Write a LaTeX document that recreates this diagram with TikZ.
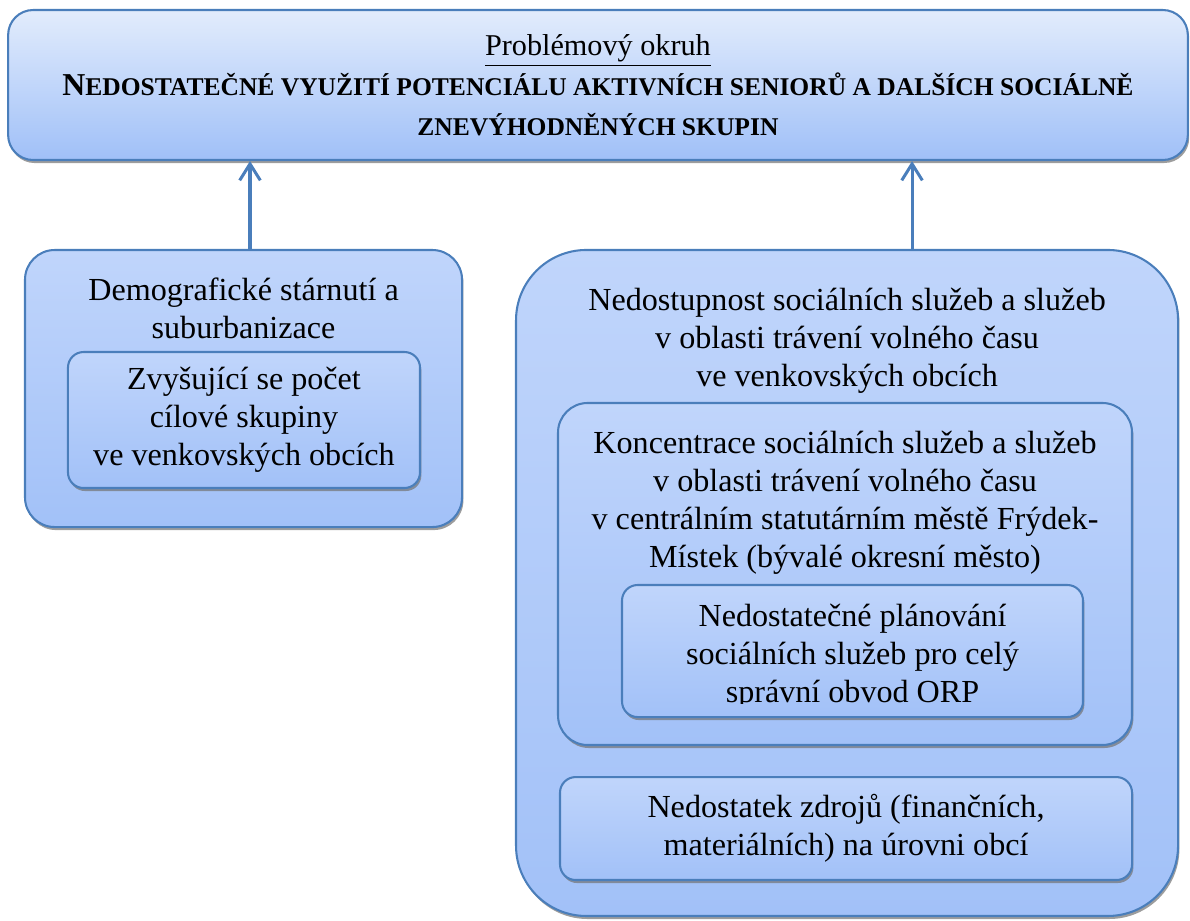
\documentclass[tikz,border=0pt]{standalone}
\usepackage{fontspec}
\setmainfont{Liberation Serif}
\usetikzlibrary{arrows.meta, positioning, shadows}
\definecolor{frameblue}{HTML}{4A7EBB}
\definecolor{titletop}{HTML}{E2ECFC}
\definecolor{titlebottom}{HTML}{A0C0F8}
\definecolor{boxtop}{HTML}{C0D5FB}
\definecolor{boxbottom}{HTML}{A2C1F8}

\begin{document}
\begin{tikzpicture}[
    font=\fontsize{11.7}{13.8}\selectfont,
    box/.style={rectangle, draw=frameblue, line width=0.75pt, top color=boxtop, bottom color=boxbottom, drop shadow={shadow xshift=0.5pt, shadow yshift=-1.1pt, fill=black!55, opacity=0.7}},
    titlebox/.style={box, top color=titletop, bottom color=titlebottom, rounded corners=0.32cm, align=center, font=\fontsize{11}{14.6}\selectfont},
    boxtext/.style={align=center, inner sep=0pt, anchor=north},
    arrow/.style={-{Straight Barb[length=6pt, width=7.5pt]}, line width=1.1pt, frameblue}
]
\useasboundingbox (0,0) rectangle (15.232,-11.776);

% problem area
\node[titlebox, minimum width=15.10cm, minimum height=1.92cm] (problem) at (7.654,-1.088)
    {\underline{Problémový okruh}\\
     \textbf{{\fontsize{11.6}{14.6}\selectfont N}{\fontsize{9.3}{14.6}\selectfont EDOSTATEČNÉ VYUŽITÍ POTENCIÁLU AKTIVNÍCH SENIORŮ A DALŠÍCH SOCIÁLNĚ}}\\
     \textbf{\fontsize{9.3}{14.6}\selectfont ZNEVÝHODNĚNÝCH SKUPIN}};

% left branch
\node[box, rounded corners=0.38cm, minimum width=5.594cm, minimum height=3.546cm] (aging) at (3.117,-4.973) {};
\node[boxtext] (agingtext) at ([yshift=-0.36cm]aging.north) {Demografické stárnutí a\\suburbanizace};
\node[box, rounded corners=0.2cm, minimum width=4.506cm, minimum height=1.741cm, align=center] (growth) at (3.123,-5.376)
    {Zvyšující se počet\\cílové skupiny\\ve venkovských obcích};

% right branch
\node[box, rounded corners=0.9cm, minimum width=8.474cm, minimum height=8.525cm] (access) at (10.842,-7.462) {};
\node[boxtext] (accesstext) at ([yshift=-0.5cm]access.north)
    {Nedostupnost sociálních služeb a služeb\\v oblasti trávení volného času\\ve venkovských obcích};
\node[box, rounded corners=0.38cm, minimum width=7.347cm, minimum height=4.378cm] (concentration) at (10.816,-7.347) {};
\node[boxtext] (concentrationtext) at ([yshift=-0.37cm]concentration.north)
    {Koncentrace sociálních služeb a služeb\\v oblasti trávení volného času\\v centrálním statutárním městě Frýdek-\\Místek (bývalé okresní město)};
\node[box, rounded corners=0.2cm, minimum width=5.901cm, minimum height=1.690cm] (planning) at (10.912,-8.333) {};
\begin{scope}
  \clip ([yshift=0.19cm]planning.south west) rectangle (planning.north east);
  \node[align=center] (planningtext) at ([yshift=-0.077cm]planning.center)
      {Nedostatečné plánování\\sociálních služeb pro celý\\správní obvod ORP};
\end{scope}
\node[box, rounded corners=0.2cm, minimum width=7.322cm, minimum height=1.318cm, align=center] (resources) at (10.829,-10.605)
    {Nedostatek zdrojů (finančních,\\materiálních) na úrovni obcí};

\draw[arrow] ([xshift=0.083cm]aging.north) -- ([xshift=0.083cm]aging.north |- problem.south);
\draw[arrow] ([xshift=0.832cm]access.north) -- ([xshift=0.832cm]access.north |- problem.south);

\end{tikzpicture}
\end{document}
